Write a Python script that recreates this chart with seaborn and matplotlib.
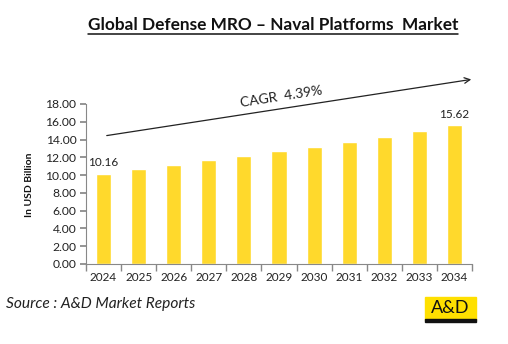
import matplotlib
matplotlib.use("Agg")
import matplotlib.pyplot as plt
import seaborn as sns
import pandas as pd
import numpy as np
from matplotlib.patches import FancyArrowPatch, Rectangle
from matplotlib.lines import Line2D

years = ["2024", "2025", "2026", "2027", "2028", "2029", "2030", "2031", "2032", "2033", "2034"]
values = [10.16, 10.68, 11.15, 11.72, 12.18, 12.76, 13.20, 13.78, 14.33, 14.93, 15.62]
y_ticks = [0, 2, 4, 6, 8, 10, 12, 14, 16, 18]
title = "Global Defense MRO \u2013 Naval Platforms  Market"
cagr_text = "CAGR  4.39%"
ylabel = "In USD Billion"
source = "Source : A&D Market Reports"

sns.set_theme(style="white")
plt.rcParams['font.family'] = ['Lato', 'DejaVu Sans']

W, H = 508, 344
fig = plt.figure(figsize=(W / 100, H / 100), dpi=100)
ax = fig.add_axes([86 / W, 1 - 264 / H, (472 - 86) / W, (264 - 104) / H])

df = pd.DataFrame({"year": years, "value": values})
sns.barplot(data=df, x="year", y="value", color="#FFD92C", saturation=1, width=0.43, ax=ax)

ax.set_ylim(0, 18)
ax.set_xlim(-0.5, len(years) - 0.5)
ax.set_yticks(y_ticks)
ax.set_yticklabels([f"{v:.2f}" for v in y_ticks], fontsize=8.7, color="#222222")
ax.tick_params(axis="x", labelsize=8.5, colors="#222222", length=0, pad=6)
ax.tick_params(axis="y", length=4, color="#888888", direction="out", left=True, pad=3)
ax.set_xticks(np.arange(-0.5, len(years), 1), minor=True)
ax.tick_params(axis="x", which="minor", length=5, color="#888888", direction="out", bottom=True)
ax.set_xlabel("")
ax.set_ylabel("")
for s in ["top", "right"]:
    ax.spines[s].set_visible(False)
for s in ["left", "bottom"]:
    ax.spines[s].set_color("#888888")
    ax.spines[s].set_linewidth(0.8)

# data labels for first and last bars
for i in [0, len(values) - 1]:
    ax.text(i, values[i] + 0.6, f"{values[i]:.2f}", ha="center", va="bottom", fontsize=8.5, color="#222222")

# Title
t = fig.text(273 / W, 1 - 25 / H, title, ha="center", va="center", fontsize=12.4, fontweight="bold", color="#111111")
fig.canvas.draw()
bb = t.get_window_extent()
fig.add_artist(Line2D([bb.x0 / W, bb.x1 / W], [(bb.y0 - 0.5) / H, (bb.y0 - 0.5) / H], color="#111111", lw=1.1))

# CAGR arrow
arr = FancyArrowPatch((104 / W, 1 - 136 / H), (474 / W, 1 - 79 / H), transform=fig.transFigure,
                      arrowstyle="->", mutation_scale=10, color="#222222", lw=0.9)
fig.add_artist(arr)
fig.text(281 / W, 1 - 97 / H, cagr_text, ha="center", va="center", rotation=8.8, fontsize=10, color="#222222")

# Y label
fig.text(29 / W, 1 - 185 / H, ylabel, ha="center", va="center", rotation=90, fontsize=7.5, fontweight="bold", color="#111111")

# Source
fig.text(6 / W, 1 - 304 / H, source, ha="left", va="center", fontsize=11.2, style="italic", color="#222222")

# Logo
fig.add_artist(Rectangle((425 / W, 1 - 320 / H), 51 / W, 23 / H, transform=fig.transFigure, color="#FFE000"))
fig.add_artist(Rectangle((425 / W, 1 - 322 / H), 51 / W, 3 / H, transform=fig.transFigure, color="#111111"))
fig.text(450.5 / W, 1 - 308 / H, "A&D", ha="center", va="center", fontsize=13, color="#111111")

fig.savefig("out.png", dpi=100, facecolor="white")
